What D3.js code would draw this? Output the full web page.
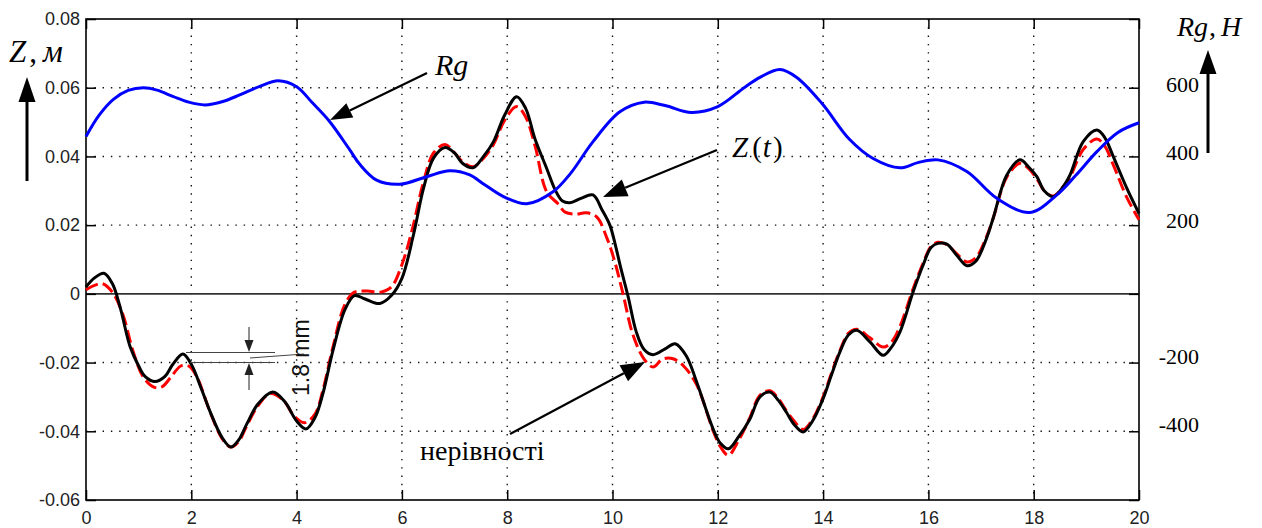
<!DOCTYPE html>
<html>
<head>
<meta charset="utf-8">
<script src="https://cdn.jsdelivr.net/npm/d3@7"></script>
<style>
	body { margin: 0; background: #fff; }
	svg { display: block; background: #fff; }
	.tick text { font-family: "Liberation Sans", Arial, sans-serif; font-size: 18px; fill: #222; }
	.serif { font-family: "Liberation Serif", "Times New Roman", serif; fill: #000; }
</style>
</head>
<body>
<svg id="chart" width="1262" height="528"></svg>
<script>
const xTicks = [0, 2, 4, 6, 8, 10, 12, 14, 16, 18, 20]
const zTicks = [-0.06, -0.04, -0.02, 0, 0.02, 0.04, 0.06, 0.08]
const rgTicks = [600, 400, 200, -200, -400]

// Z(t), black
const tZ = [0, 0.15, 0.34, 0.5, 0.65, 0.84, 1.0, 1.12, 1.31, 1.5, 1.65, 1.84, 2.0, 2.2, 2.36, 2.58, 2.75, 2.9, 3.05, 3.27, 3.55, 3.78, 4.0, 4.18, 4.35, 4.5, 4.69, 4.92, 5.1, 5.3, 5.58, 5.8, 6.0, 6.22, 6.41, 6.6, 6.82, 7.0, 7.15, 7.35, 7.55, 7.74, 7.95, 8.18, 8.35, 8.53, 8.75, 8.91, 9.05, 9.19, 9.4, 9.63, 9.8, 9.95, 10.05, 10.15, 10.3, 10.45, 10.6, 10.77, 11.0, 11.19, 11.4, 11.6, 11.91, 12.05, 12.2, 12.4, 12.61, 12.8, 12.99, 13.15, 13.3, 13.45, 13.62, 13.8, 14.0, 14.15, 14.32, 14.48, 14.64, 14.89, 15.14, 15.3, 15.46, 15.71, 15.9, 16.05, 16.18, 16.35, 16.55, 16.73, 16.9, 17.1, 17.23, 17.49, 17.74, 17.9, 18.06, 18.2, 18.37, 18.55, 18.69, 18.94, 19.2, 19.35, 19.5, 19.77, 20]
const zVals = [0.002, 0.0045, 0.006, 0.003, -0.004, -0.0155, -0.021, -0.024, -0.0255, -0.024, -0.0205, -0.0175, -0.0205, -0.028, -0.0344, -0.0417, -0.0446, -0.0425, -0.038, -0.032, -0.0286, -0.0315, -0.037, -0.0393, -0.036, -0.029, -0.0165, -0.0045, -0.0005, -0.0015, -0.0028, -0.0005, 0.0045, 0.0172, 0.0307, 0.0395, 0.0426, 0.041, 0.038, 0.0367, 0.04, 0.0443, 0.052, 0.0574, 0.054, 0.045, 0.0365, 0.0303, 0.027, 0.0265, 0.0278, 0.0288, 0.0245, 0.02, 0.0145, 0.008, -0.001, -0.011, -0.0162, -0.0177, -0.016, -0.0145, -0.018, -0.0257, -0.0393, -0.0435, -0.0451, -0.0415, -0.0364, -0.03, -0.0286, -0.031, -0.0344, -0.038, -0.0402, -0.037, -0.0305, -0.024, -0.0169, -0.012, -0.0106, -0.014, -0.0179, -0.0155, -0.0111, 0.0006, 0.0084, 0.0135, 0.0147, 0.0145, 0.011, 0.0082, 0.0095, 0.016, 0.022, 0.0346, 0.039, 0.037, 0.0341, 0.03, 0.0283, 0.031, 0.0346, 0.0443, 0.0477, 0.0455, 0.0404, 0.0307, 0.0234]

// нерівності, red dashed
const tIrr = [0, 0.3, 0.5, 0.7, 0.9, 1.1, 1.3, 1.45, 1.6, 1.8, 1.95, 2.1, 2.36, 2.58, 2.75, 2.9, 3.05, 3.27, 3.5, 3.75, 3.95, 4.15, 4.35, 4.5, 4.69, 4.92, 5.1, 5.35, 5.6, 5.8, 6.0, 6.2, 6.4, 6.6, 6.82, 7.0, 7.15, 7.35, 7.55, 7.74, 7.95, 8.18, 8.35, 8.53, 8.75, 8.96, 9.1, 9.3, 9.5, 9.7, 9.9, 10.05, 10.2, 10.39, 10.6, 10.77, 10.95, 11.15, 11.35, 11.6, 11.91, 12.05, 12.2, 12.4, 12.61, 12.8, 12.99, 13.15, 13.3, 13.45, 13.62, 13.8, 14.0, 14.15, 14.32, 14.48, 14.64, 14.89, 15.14, 15.3, 15.46, 15.71, 15.9, 16.05, 16.18, 16.35, 16.55, 16.73, 16.9, 17.1, 17.23, 17.49, 17.74, 17.9, 18.06, 18.2, 18.37, 18.55, 18.69, 18.94, 19.2, 19.35, 19.5, 19.77, 20]
const irrVals = [0.0012, 0.003, 0.0005, -0.006, -0.017, -0.0245, -0.0272, -0.027, -0.0245, -0.021, -0.021, -0.024, -0.0345, -0.042, -0.0446, -0.043, -0.0385, -0.0325, -0.029, -0.031, -0.0355, -0.0375, -0.035, -0.028, -0.0155, -0.003, 0.0005, 0.0008, 0.0005, 0.002, 0.0085, 0.019, 0.032, 0.041, 0.0435, 0.041, 0.0385, 0.037, 0.0395, 0.0435, 0.0505, 0.0545, 0.0515, 0.043, 0.0297, 0.0263, 0.0238, 0.0232, 0.0236, 0.0224, 0.016, 0.009, 0, -0.012, -0.019, -0.0213, -0.019, -0.0189, -0.021, -0.0265, -0.0398, -0.0445, -0.047, -0.0425, -0.036, -0.0295, -0.0282, -0.0305, -0.034, -0.037, -0.0395, -0.0365, -0.03, -0.0235, -0.0165, -0.0115, -0.0103, -0.0128, -0.0155, -0.014, -0.0095, 0.0015, 0.009, 0.0138, 0.015, 0.0143, 0.0115, 0.0093, 0.0105, 0.0165, 0.022, 0.034, 0.038, 0.0365, 0.0335, 0.03, 0.0285, 0.031, 0.034, 0.042, 0.0451, 0.043, 0.038, 0.028, 0.0216]

// Rg, blue (right scale)
const tRg = [0, 0.25, 0.52, 0.8, 1.09, 1.35, 1.66, 1.95, 2.26, 2.6, 2.92, 3.3, 3.65, 4.0, 4.3, 4.63, 5.01, 5.2, 5.52, 5.96, 6.47, 6.91, 7.29, 7.55, 7.93, 8.37, 8.87, 9.2, 9.63, 10.14, 10.6, 11.0, 11.5, 12.0, 12.5, 12.8, 13.18, 13.5, 13.98, 14.5, 14.95, 15.46, 15.8, 16.18, 16.73, 17.3, 17.93, 18.44, 18.8, 19.2, 19.6, 20]
const rgVals = [458, 520, 566, 592, 600, 593, 574, 558, 550, 560, 579, 604, 620, 603, 556, 501, 419, 377, 331, 319, 341, 358, 346, 320, 283, 262, 297, 350, 443, 530, 558, 548, 528, 545, 600, 630, 653, 630, 554, 450, 394, 367, 382, 390, 356, 278, 237, 288, 345, 414, 470, 498]

const svg = d3.select("#chart")
const x = d3.scaleLinear().domain([0, 20]).range([86, 1139])
const y = d3.scaleLinear().domain([-0.06, 0.08]).range([500, 19])
const yRg = d3.scaleLinear().domain([-600, 800]).range([500, 19])
// right labels sit a little off the grid in the original
const yRgLabel = d3.scaleLinear().domain([-400, 600]).range([424, 84.5])

// dotted grid
const grid = svg.append("g")
	.attr("stroke", "#111")
	.attr("stroke-width", 1.4)
	.attr("stroke-dasharray", "1.4 6.9")
grid.selectAll(".gx")
	.data(xTicks.filter(d => d > 0 && d < 20))
	.enter()
	.append("line")
	.attr("x1", d => x(d))
	.attr("x2", d => x(d))
	.attr("y1", y(0.08))
	.attr("y2", y(-0.06))
grid.selectAll(".gy")
	.data(zTicks.filter(d => d !== 0 && d > -0.06 && d < 0.08))
	.enter()
	.append("line")
	.attr("x1", x(0))
	.attr("x2", x(20))
	.attr("y1", d => y(d))
	.attr("y2", d => y(d))

// zero line
svg.append("line")
	.attr("x1", x(0))
	.attr("x2", x(20))
	.attr("y1", y(0))
	.attr("y2", y(0))
	.attr("stroke", "#333")
	.attr("stroke-width", 1.6)

// axes, ticks inside
const fmt = d => d === 0 ? "0" : d.toFixed(2)
const styleAxis = g => {
	g.select(".domain").remove()
	g.selectAll(".tick line").attr("stroke", "#000").attr("stroke-width", 1.5)
}
svg.append("g")
	.attr("transform", `translate(${x(0)},0)`)
	.call(d3.axisLeft(y).tickValues(zTicks).tickSize(-10).tickPadding(6).tickFormat(fmt))
	.call(styleAxis)
svg.append("g")
	.attr("transform", `translate(${x(20)},0)`)
	.call(d3.axisRight(y).tickValues(zTicks).tickSize(-10).tickFormat(""))
	.call(styleAxis)
svg.append("g")
	.attr("transform", `translate(0,${y(-0.06)})`)
	.call(d3.axisBottom(x).tickValues(xTicks).tickSize(-10).tickPadding(11).tickFormat(d3.format("d")))
	.call(styleAxis)
svg.append("g")
	.attr("transform", `translate(0,${y(0.08)})`)
	.call(d3.axisTop(x).tickValues(xTicks).tickSize(-10).tickFormat(""))
	.call(styleAxis)

svg.append("rect")
	.attr("x", x(0))
	.attr("y", y(0.08))
	.attr("width", x(20) - x(0))
	.attr("height", y(-0.06) - y(0.08))
	.attr("fill", "none")
	.attr("stroke", "#000")
	.attr("stroke-width", 1.6)

// right labels
svg.append("g")
	.selectAll("text")
	.data(rgTicks)
	.enter()
	.append("text")
	.attr("class", "serif")
	.attr("x", 1199)
	.attr("y", d => yRgLabel(d))
	.attr("dy", "0.35em")
	.attr("text-anchor", "end")
	.attr("font-size", 22)
	.text(d => d)

// curves
const curve = d3.curveCatmullRom.alpha(0.5)
const lineZ = d3.line().x(d => x(d[0])).y(d => y(d[1])).curve(curve)
const lineRg = d3.line().x(d => x(d[0])).y(d => yRg(d[1])).curve(curve)

svg.append("path")
	.datum(d3.zip(tIrr, irrVals))
	.attr("d", lineZ)
	.attr("fill", "none")
	.attr("stroke", "#ff0000")
	.attr("stroke-width", 3)
	.attr("stroke-dasharray", "13 5")
svg.append("path")
	.datum(d3.zip(tZ, zVals))
	.attr("d", lineZ)
	.attr("fill", "none")
	.attr("stroke", "#000")
	.attr("stroke-width", 3)
svg.append("path")
	.datum(d3.zip(tRg, rgVals))
	.attr("d", lineRg)
	.attr("fill", "none")
	.attr("stroke", "#0000ff")
	.attr("stroke-width", 3)

// arrows
const arrow = (x1, y1, x2, y2, len, half, w, color) => {
	const a = Math.atan2(y2 - y1, x2 - x1)
	const bx = x2 - len * Math.cos(a)
	const by = y2 - len * Math.sin(a)
	svg.append("line")
		.attr("x1", x1)
		.attr("y1", y1)
		.attr("x2", bx)
		.attr("y2", by)
		.attr("stroke", color)
		.attr("stroke-width", w)
	svg.append("polygon")
		.attr("points", [[x2, y2], [bx + half * Math.sin(a), by - half * Math.cos(a)], [bx - half * Math.sin(a), by + half * Math.cos(a)]].join(" "))
		.attr("fill", color)
}
arrow(27, 181, 27, 77, 25, 8.5, 3, "#000")
arrow(1208, 153, 1208, 50, 24, 8.5, 3, "#000")
arrow(427, 73, 330, 120, 22, 8, 2.2, "#000")
arrow(717, 150, 603, 197, 24, 9, 2.2, "#000")
arrow(510, 434, 645, 362, 24, 9, 2.2, "#000")

// 1.8 mm dimension
const dim = svg.append("g").attr("stroke", "#444").attr("stroke-width", 1)
dim.append("line").attr("x1", 186).attr("x2", 275).attr("y1", 352.5).attr("y2", 352.5)
dim.append("line").attr("x1", 190).attr("x2", 275).attr("y1", 362.5).attr("y2", 362.5)
dim.append("line").attr("x1", 250).attr("x2", 304).attr("y1", 358).attr("y2", 354)
arrow(249, 327, 249, 352, 12, 4.5, 1, "#222")
arrow(249, 390, 249, 363, 12, 4.5, 1, "#222")
svg.append("text")
	.attr("transform", "translate(309,396) rotate(-90)")
	.attr("font-family", "Liberation Sans, Arial, sans-serif")
	.attr("font-size", 23)
	.attr("fill", "#111")
	.text("1.8 mm")

// labels
const zLab = svg.append("text").attr("class", "serif").attr("x", 9).attr("y", 62).attr("font-size", 31)
zLab.append("tspan").attr("font-style", "italic").text("Z")
zLab.append("tspan").attr("dx", 3).text(",")
zLab.append("tspan").attr("dx", 6).attr("font-style", "italic").text("м")

const rLab = svg.append("text").attr("class", "serif").attr("x", 1177).attr("y", 36).attr("font-size", 28)
rLab.append("tspan").attr("font-style", "italic").text("Rg")
rLab.append("tspan").attr("dx", 1).text(",")
rLab.append("tspan").attr("dx", 5).attr("font-style", "italic").text("H")

svg.append("text")
	.attr("class", "serif")
	.attr("x", 435)
	.attr("y", 75)
	.attr("font-size", 30)
	.attr("font-style", "italic")
	.text("Rg")

const ztLab = svg.append("text").attr("class", "serif").attr("x", 732).attr("y", 157).attr("font-size", 29)
ztLab.append("tspan").attr("font-style", "italic").text("Z")
ztLab.append("tspan").attr("dx", 4).text("(")
ztLab.append("tspan").attr("dx", 1).attr("font-style", "italic").text("t")
ztLab.append("tspan").attr("dx", 2).text(")")

svg.append("text")
	.attr("class", "serif")
	.attr("x", 420)
	.attr("y", 460)
	.attr("font-size", 28)
	.text("нерівності")
</script>
</body>
</html>
